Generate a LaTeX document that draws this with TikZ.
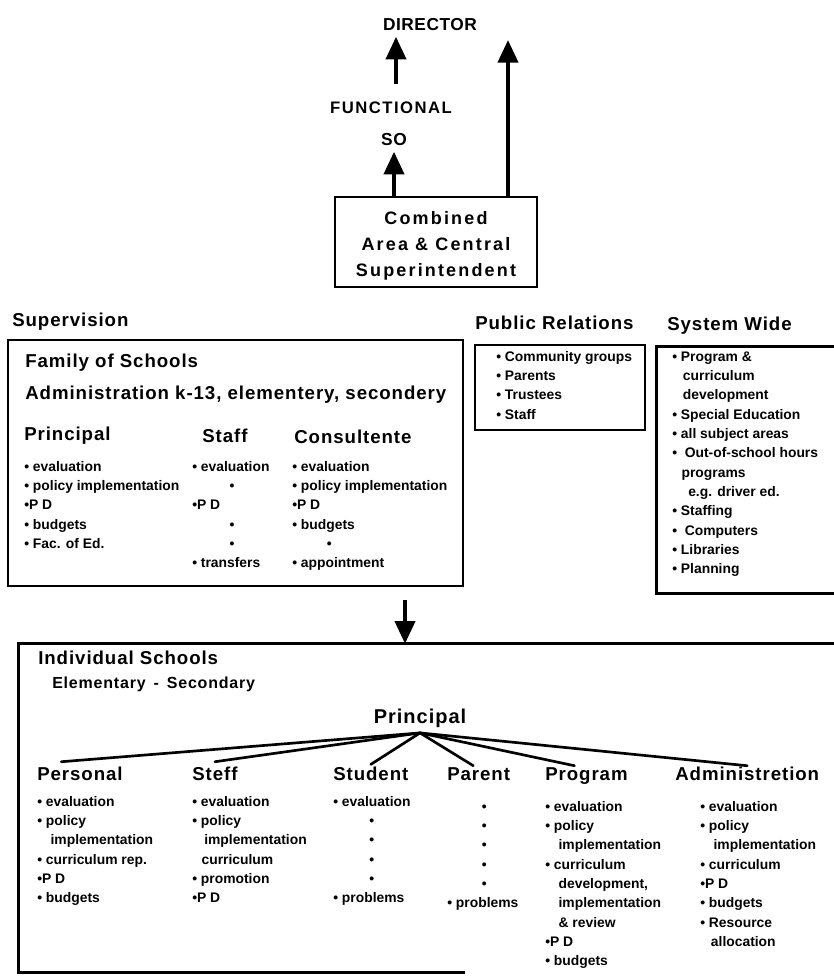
\documentclass[tikz,border=0pt]{standalone}
\usepackage{fontspec}
\setmainfont{Liberation Sans}
\newfontfamily\hdfont[LetterSpace=5]{Liberation Sans}
\newfontfamily\topfont[LetterSpace=3]{Liberation Sans}
\newfontfamily\fnfont[LetterSpace=9]{Liberation Sans}
\newfontfamily\cbfont[LetterSpace=12]{Liberation Sans}
\usetikzlibrary{arrows.meta,fit,calc}
\newcommand\mydot{•}
\newcommand\itb{\mydot\ }
\begin{document}
\begin{tikzpicture}[x=0.75pt,y=-0.75pt,
  arr/.style={line width=3pt,-{Triangle[length=17pt,width=15pt]}},
  box/.style={draw,line width=2pt,inner sep=0pt},
  edge/.style={line width=2pt},
  tree/.style={line width=2pt,line cap=round},
  hd/.style={anchor=west,inner sep=0pt,text height=10pt,text depth=3pt,
    font=\hdfont\bfseries\fontsize{14}{16}\selectfont},
  items/.style={anchor=north west,inner sep=0pt,align=left,
    font=\bfseries\fontsize{10.4}{14.5}\selectfont},
  toptxt/.style={inner sep=0pt,font=\topfont\bfseries\fontsize{13}{15}\selectfont}]
\useasboundingbox (0,0) rectangle (834,977);

% ---------- top ----------
\node[toptxt] (dir) at (430,25) {DIRECTOR};
\node[inner sep=0pt,font=\fnfont\bfseries\fontsize{12.5}{15}\selectfont] (fn) at (391,108) {FUNCTIONAL};
\node[toptxt] (so) at (394,140) {SO};
\node[box,fit={(335,197)(537,287)}] (cb) {};
\node[align=center,inner sep=0pt,
  font=\cbfont\bfseries\fontsize{13.5}{19.5}\selectfont] (cbt) at (436,246) {Combined\\Area \& Central\\Superintendent};
\coordinate (fnTop) at (396,84);
\coordinate (dirR) at (508,40);
\draw[arr] (fnTop) -- ([yshift=-4pt]fnTop |- dir.south);
\draw[arr] (cb.north -| so) -- ([yshift=-4pt]so.south);
\draw[arr] (cb.north -| dirR) -- (dirR);

% ---------- Supervision ----------
\node[hd] (suph) at (12,322) {Supervision};
\node[box,fit={(8,340)(463,586)}] (sup) {};
\node[hd] (fam) at (25,363) {Family of Schools};
\node[hd] (adml) at (25,395) {Administration k-13, elementery, secondery};
\node[hd] (sprin) at (24,436) {Principal};
\node[hd] (sstaff) at (202,438) {Staff};
\node[hd] (scons) at (294,439) {Consultente};
\node[items] (sprini) at (24,457.5) {\strut\itb evaluation\\ \itb policy implementation\\ \mydot P D\\ \itb budgets\\ \itb Fac. of Ed.};
\node[items] (sstaffi) at (192,457.5) {\strut\itb evaluation\\ \hspace*{28pt}\mydot\\ \mydot P D\\ \hspace*{28pt}\mydot\\ \hspace*{28pt}\mydot\\ \itb transfers};
\node[items] (sconsi) at (292,457.5) {\strut\itb evaluation\\ \itb policy implementation\\ \mydot P D\\ \itb budgets\\ \hspace*{26pt}\mydot\\ \itb appointment};

% ---------- Public Relations ----------
\node[hd] (prh) at (475,325) {Public Relations};
\node[box,fit={(475,345)(645,430)}] (prb) {};
\node[items] (pri) at (496,347.5) {\strut\itb Community groups\\ \itb Parents\\ \itb Trustees\\ \itb Staff};

% ---------- System Wide ----------
\node[hd] (swh) at (667,326) {System Wide};
\node[inner sep=0pt,fit={(657,347)(834,593)}] (swb) {};
\draw[edge] (swb.north east) -- (swb.north west) -- (swb.south west) -- (swb.south east);
\node[items] (swi) at (672,347.5) {\strut\itb Program \&\\ \hspace*{8pt}curriculum\\ \hspace*{8pt}development\\ \itb Special Education\\ \itb all subject areas\\ \itb\ Out-of-school hours\\ \hspace*{7pt}programs\\ \hspace*{12pt}e.g. driver ed.\\ \itb Staffing\\ \itb\ Computers\\ \itb Libraries\\ \itb Planning};

% ---------- arrow down ----------
\node[inner sep=0pt,fit={(19,644)(834,972)}] (ind) {};
\coordinate (supOut) at (405,600);
\draw[arr] (supOut) -- (supOut |- ind.north);
\draw[edge] (ind.north east) -- (ind.north west) -- (ind.south west) -- ($(ind.south west)+(446,0)$);

% ---------- Individual Schools ----------
\node[hd] (ish) at (38,660) {Individual Schools};
\node[anchor=west,inner sep=0pt,font=\hdfont\bfseries\fontsize{12}{14}\selectfont] (esh) at (52,684) {Elementary\, - \,Secondary};
\node[inner sep=0pt,font=\hdfont\bfseries\fontsize{15}{17}\selectfont] (pr) at (420,718) {Principal};
\coordinate (apex) at ([yshift=-4pt]pr.south);

\node[hd] (pers) at (37,776) {Personal};
\node[hd] (stf) at (192,776) {Steff};
\node[hd] (stu) at (333,776) {Student};
\node[hd] (par) at (447,776) {Parent};
\node[hd] (prg) at (545,776) {Program};
\node[hd] (adm) at (675,776) {Administretion};

\draw[tree] (apex) -- ([xshift=-14pt,yshift=4pt]pers.north);
\draw[tree] (apex) -- ([yshift=4pt]stf.north);
\draw[tree] (apex) -- ([yshift=2pt]stu.north);
\draw[tree] (apex) -- ([xshift=-4pt,yshift=1pt]par.north);
\draw[tree] (apex) -- ([xshift=-9pt,yshift=1pt]prg.north);
\draw[tree] (apex) -- ([yshift=1pt]adm.north);

\node[items] (persi) at (37,792.5) {\strut\itb evaluation\\ \itb policy\\ \hspace*{10pt}implementation\\ \itb curriculum rep.\\ \mydot P D\\ \itb budgets};
\node[items] (stfi) at (192,792.5) {\strut\itb evaluation\\ \itb policy\\ \hspace*{9pt}implementation\\ \hspace*{7pt}curriculum\\ \itb promotion\\ \mydot P D};
\node[items] (stui) at (333,792.5) {\strut\itb evaluation\\ \hspace*{27pt}\mydot\\ \hspace*{27pt}\mydot\\ \hspace*{27pt}\mydot\\ \hspace*{27pt}\mydot\\ \itb problems};
\node[items] (pari) at (447,797.5) {\strut\hspace*{26pt}\mydot\\ \hspace*{26pt}\mydot\\ \hspace*{26pt}\mydot\\ \hspace*{26pt}\mydot\\ \hspace*{26pt}\mydot\\ \itb problems};
\node[items] (prgi) at (545,797.5) {\strut\itb evaluation\\ \itb policy\\ \hspace*{10pt}implementation\\ \itb curriculum\\ \hspace*{10pt}development,\\ \hspace*{10pt}implementation\\ \hspace*{10pt}\& review\\ \mydot P D\\ \itb budgets};
\node[items] (admi) at (700,797.5) {\strut\itb evaluation\\ \itb policy\\ \hspace*{10pt}implementation\\ \itb curriculum\\ \mydot P D\\ \itb budgets\\ \itb Resource\\ \hspace*{8pt}allocation};
\end{tikzpicture}
\end{document}
